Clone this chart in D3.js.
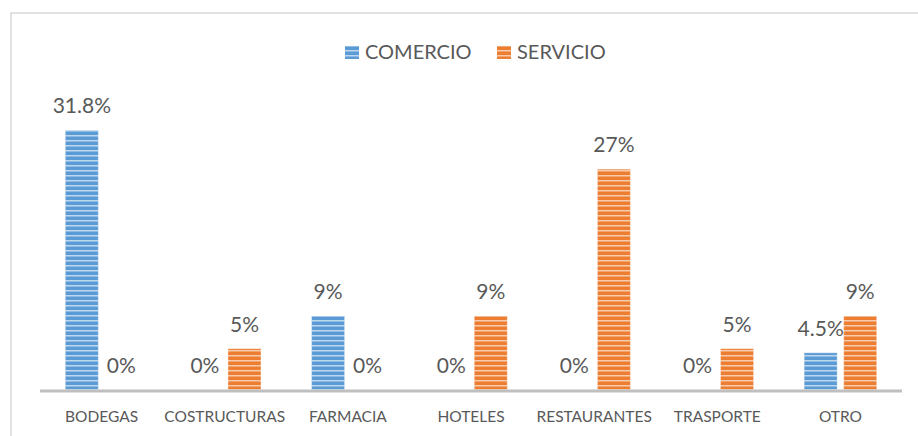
<!DOCTYPE html>
<html>
<head>
<meta charset="utf-8">
<script src="https://cdn.jsdelivr.net/npm/d3@7"></script>
<style>
  html, body { margin: 0; padding: 0; background: #fff; }
  svg { display: block; }
  text { font-family: Lato, "Open Sans", sans-serif; fill: #595959; }
</style>
</head>
<body>
<svg id="chart" width="918" height="436"></svg>
<script>
// Business types and the share of each, split into commerce and services
const categories = ["BODEGAS", "COSTRUCTURAS", "FARMACIA", "HOTELES", "RESTAURANTES", "TRASPORTE", "OTRO"];
const seriesNames = ["COMERCIO", "SERVICIO"];
const comercio = [31.8, 0, 9, 0, 0, 0, 4.5];
const servicio = [0, 5, 0, 9, 27, 5, 9];
const labelsComercio = ["31.8%", "0%", "9%", "0%", "0%", "0%", "4.5%"];
const labelsServicio = ["0%", "5%", "0%", "9%", "27%", "5%", "9%"];
const colors = ["#5B9BD5", "#ED7D31"];

const svg = d3.select("#chart");
const plot = { left: 40, right: 902, base: 389.5 };

// Chart frame (light grey border)
svg.append("rect")
  .attr("x", 11).attr("y", 13)
  .attr("width", 1000).attr("height", 1000)
  .attr("fill", "none").attr("stroke", "#D9D9D9").attr("stroke-width", 1.5);

// Horizontal stripe pattern laid over every bar
const defs = svg.append("defs");
const pat = defs.append("pattern")
  .attr("id", "stripes")
  .attr("patternUnits", "userSpaceOnUse")
  .attr("width", 10).attr("height", 5);
pat.append("rect")
  .attr("x", 0).attr("y", 0).attr("width", 10).attr("height", 1.5)
  .attr("fill", "#ffffff").attr("fill-opacity", 0.6);

const x0 = d3.scaleBand()
  .domain(categories)
  .range([plot.left, plot.right])
  .paddingInner(0.411)
  .paddingOuter(0.2055);

const x1 = d3.scaleBand()
  .domain(seriesNames)
  .range([0, x0.bandwidth()])
  .paddingInner(0.165);

const y = d3.scaleLinear()
  .domain([0, 31.8])
  .range([plot.base, 130]);

const rows = [];
categories.forEach((c, i) => {
  rows.push({ cat: c, s: "COMERCIO", v: comercio[i], label: labelsComercio[i], color: colors[0] });
  rows.push({ cat: c, s: "SERVICIO", v: servicio[i], label: labelsServicio[i], color: colors[1] });
});

const bars = svg.append("g");
bars.selectAll("rect.bar")
  .data(rows.filter(d => d.v > 0))
  .join("rect")
  .attr("class", "bar")
  .attr("x", d => x0(d.cat) + x1(d.s))
  .attr("y", d => y(d.v))
  .attr("width", x1.bandwidth())
  .attr("height", d => y(0) - y(d.v))
  .attr("fill", d => d.color);

bars.selectAll("rect.stripe")
  .data(rows.filter(d => d.v > 0))
  .join("rect")
  .attr("class", "stripe")
  .attr("x", d => x0(d.cat) + x1(d.s))
  .attr("y", d => y(d.v))
  .attr("width", x1.bandwidth())
  .attr("height", d => y(0) - y(d.v))
  .attr("fill", "url(#stripes)")
  .attr("stroke", "#ffffff").attr("stroke-opacity", 0.35).attr("stroke-width", 1);

// Baseline
svg.append("line")
  .attr("x1", plot.left).attr("x2", plot.right)
  .attr("y1", plot.base + 1.5).attr("y2", plot.base + 1.5)
  .attr("stroke", "#BFBFBF").attr("stroke-width", 3);

// Value labels
svg.append("g").selectAll("text")
  .data(rows)
  .join("text")
  .attr("x", d => x0(d.cat) + x1(d.s) + x1.bandwidth() / 2)
  .attr("y", d => y(d.v) - 17)
  .attr("text-anchor", "middle")
  .attr("font-size", 21)
  .text(d => d.label);

// Category labels
const xAxis = d3.axisBottom(x0).tickSize(0).tickPadding(0);
const gx = svg.append("g")
  .attr("transform", `translate(0,${plot.base})`)
  .call(xAxis);
gx.select(".domain").remove();
gx.selectAll("text")
  .attr("y", 32)
  .attr("dy", 0)
  .attr("font-size", 15.5)
  .attr("font-family", "Lato, 'Open Sans', sans-serif")
  .attr("fill", "#595959");

// Legend
const legendItems = [
  { name: seriesNames[0], color: colors[0], x: 345 },
  { name: seriesNames[1], color: colors[1], x: 497 }
];
const lg = svg.append("g");
legendItems.forEach(it => {
  lg.append("rect")
    .attr("x", it.x).attr("y", 46).attr("width", 14).attr("height", 13)
    .attr("fill", it.color);
  lg.append("rect")
    .attr("x", it.x).attr("y", 46).attr("width", 14).attr("height", 13)
    .attr("fill", "url(#stripes)");
  lg.append("text")
    .attr("x", it.x + 20).attr("y", 58.5)
    .attr("font-size", 20)
    .text(it.name);
});
</script>
</body>
</html>
